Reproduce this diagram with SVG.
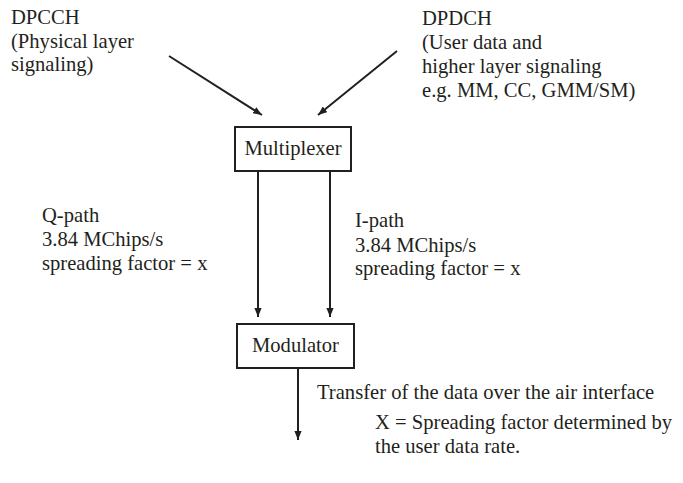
<svg xmlns="http://www.w3.org/2000/svg" width="683" height="483" viewBox="0 0 683 483">
<style>
text{font-family:"Liberation Serif","Times New Roman","DejaVu Serif",serif;font-size:20.6px;fill:#231f20}
.box{fill:#fff;stroke:#231f20;stroke-width:2}
.ln{stroke:#231f20;stroke-width:2;fill:none}
</style>
<defs>
<marker id="ah" viewBox="0 0 10 8" refX="10" refY="4" markerWidth="4.5" markerHeight="3.6" orient="auto" markerUnits="strokeWidth">
<path d="M0,0 L10,4 L0,8 z" fill="#231f20"/>
</marker>
</defs>
<rect width="683" height="483" fill="#fff"/>
<g id="dpcch">
<text x="11" y="24">DPCCH</text>
<text x="11" y="48">(Physical layer</text>
<text x="11" y="71">signaling)</text>
</g>
<g id="dpdch">
<text x="422" y="25">DPDCH</text>
<text x="422" y="49">(User data and</text>
<text x="422" y="73">higher layer signaling</text>
<text x="422" y="97">e.g. MM, CC, GMM/SM)</text>
</g>
<g id="multiplexer">
<rect class="box" x="235" y="127" width="116" height="44"/>
<text x="293" y="155" text-anchor="middle">Multiplexer</text>
</g>
<g id="modulator">
<rect class="box" x="237" y="324" width="117" height="44"/>
<text x="295.5" y="352" text-anchor="middle">Modulator</text>
</g>
<g id="qpath">
<text x="42" y="222">Q-path</text>
<text x="42" y="246">3.84 MChips/s</text>
<text x="42" y="270">spreading factor = x</text>
</g>
<g id="ipath">
<text x="355" y="227">I-path</text>
<text x="355" y="252">3.84 MChips/s</text>
<text x="355" y="275">spreading factor = x</text>
</g>
<g id="notes">
<text x="317" y="399">Transfer of the data over the air interface</text>
<text x="375" y="429">X = Spreading factor determined by</text>
<text x="375" y="453">the user data rate.</text>
</g>
<g id="connectors">
<line class="ln" x1="169" y1="56" x2="262" y2="115" marker-end="url(#ah)"/>
<line class="ln" x1="397" y1="51" x2="318" y2="115" marker-end="url(#ah)"/>
<line class="ln" x1="258" y1="172" x2="258" y2="317" marker-end="url(#ah)"/>
<line class="ln" x1="330" y1="172" x2="330" y2="317" marker-end="url(#ah)"/>
<line class="ln" x1="298" y1="369" x2="298" y2="440" marker-end="url(#ah)"/>
</g>
</svg>
